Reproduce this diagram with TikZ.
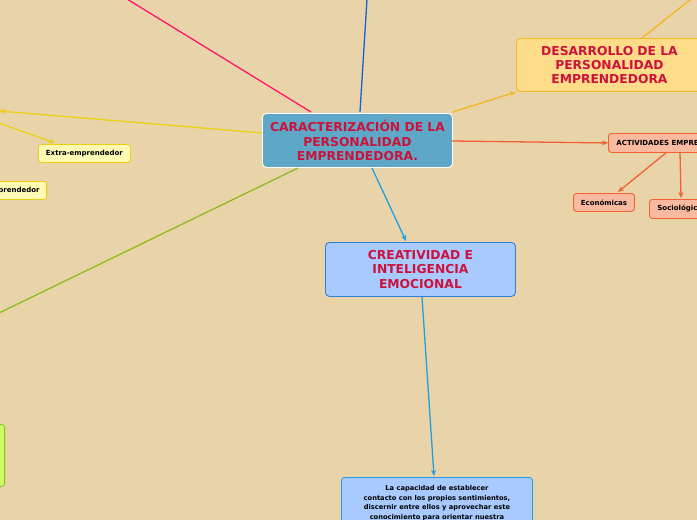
\documentclass[tikz,border=0pt]{standalone}
\usepackage{fontspec}
\setmainfont{DejaVu Sans}
\usetikzlibrary{arrows.meta}
\definecolor{bg}{RGB}{232,212,168}
\definecolor{titlered}{RGB}{204,18,58}
\definecolor{cfill}{RGB}{94,167,199}
\definecolor{dfill}{RGB}{255,220,138}
\definecolor{dline}{RGB}{245,182,36}
\definecolor{afill}{RGB}{250,186,160}
\definecolor{aline}{RGB}{242,96,52}
\definecolor{bfill}{RGB}{168,202,255}
\definecolor{bline}{RGB}{50,128,220}
\definecolor{cyanline}{RGB}{32,160,224}
\definecolor{yfill}{RGB}{255,250,180}
\definecolor{yline}{RGB}{236,206,20}
\definecolor{gfill}{RGB}{204,255,102}
\definecolor{gline}{RGB}{140,190,30}
\definecolor{pink}{RGB}{255,20,110}
\definecolor{dblue}{RGB}{20,100,210}
\tikzset{
  big/.style={rounded corners=4pt, line width=0.9pt, align=center, inner sep=0pt,
    font=\fontsize{12.3}{14.2}\selectfont\bfseries, text=titlered, anchor=north west},
  small/.style={rounded corners=3pt, line width=0.9pt, inner sep=0pt,
    font=\fontsize{7}{8.5}\selectfont\bfseries, text=black, anchor=north west},
  conn/.style={line width=1.3pt, -{Stealth[length=6pt,width=5pt]}},
  plain/.style={line width=1.3pt}
}
\begin{document}
\begin{tikzpicture}[x=1pt,y=-1pt]
\clip (0,0) rectangle (697,520);
\fill[bg] (0,0) rectangle (697,520);

% nodes
\node[big, draw=white, fill=cfill, minimum width=190pt, minimum height=54pt] (center) at (262,113)
  {CARACTERIZACIÓN DE LA\\PERSONALIDAD\\ EMPRENDEDORA.};
\node[big, draw=dline, fill=dfill, minimum width=186pt, minimum height=53pt] (desa) at (516,38)
  {DESARROLLO DE LA\\PERSONALIDAD\\ EMPRENDEDORA};
\node[small, draw=aline, fill=afill, minimum height=19pt, inner xsep=8pt] (acti) at (608,133)
  {ACTIVIDADES EMPRENDEDORAS};
\node[small, draw=aline, fill=afill, minimum width=61pt, minimum height=18pt, align=center] (econ) at (573,193) {Económicas};
\node[small, draw=aline, fill=afill, minimum height=19pt, inner xsep=8pt] (soci) at (649,199) {Sociológicas};
\node[small, draw=cyanline, fill=bfill, minimum width=191pt, minimum height=70pt, align=center,
  font=\fontsize{6.7}{9.5}\selectfont\bfseries, anchor=north west, inner ysep=4pt] (cap) at (341,477)
  {\rule{0pt}{5pt}La capacidad de establecer\\contacto con los propios sentimientos,\\discernir entre ellos y aprovechar este\\conocimiento para orientar nuestra\\conducta, la capacidad de discernir y\\responder adecuadamente};
\node[big, draw=bline, fill=bfill, minimum width=190pt, minimum height=54pt] (crea) at (325,242)
  {CREATIVIDAD E\\INTELIGENCIA\\ EMOCIONAL};
\node[small, draw=yline, fill=yfill, minimum width=92pt, minimum height=18pt, align=center] (extra) at (38,144) {Extra-emprendedor};
\node[small, draw=yline, fill=yfill, minimum height=18pt, anchor=north east, inner xsep=7pt] (intra) at (47,181) {Intra-emprendedor};
\node[small, draw=gline, fill=gfill, minimum width=40pt, minimum height=62pt, anchor=north east] (green) at (5,424) {};

% off-canvas ends
\coordinate (pinkend) at (127,-1);
\coordinate (blueend) at (367,-1);
\coordinate (desaend) at (691,-1);
\coordinate (yleft) at (-1,111);
\coordinate (yleft2) at (-1,123);
\coordinate (gend) at (-1,313);
\coordinate (aend) at (704,162);

% connectors
\draw[plain, pink] (311,112) -- (pinkend);
\draw[plain, dblue] (360,112) -- (blueend);
\draw[conn, dline] (center.east |- 0,112) -- (desa.south west |- 0,92) ;
\draw[plain, dline] (642,38) -- (desaend);
\draw[conn, aline] (452,141) -- (acti.west);
\draw[conn, aline] (667,152) -- (618,192);
\draw[conn, aline] (680,152) -- (681,198);
\draw[plain, aline] (697,152) -- (aend);
\draw[conn, cyanline] (372,168) -- (406,241);
\draw[conn, cyanline] (422,297) -- (434,476);
\draw[conn, yline] (center.west |- 0,133) -- (yleft);
\draw[conn, yline] (yleft2) -- (55,143);
\draw[plain, gline] (298,168) -- (gend);
\end{tikzpicture}
\end{document}
